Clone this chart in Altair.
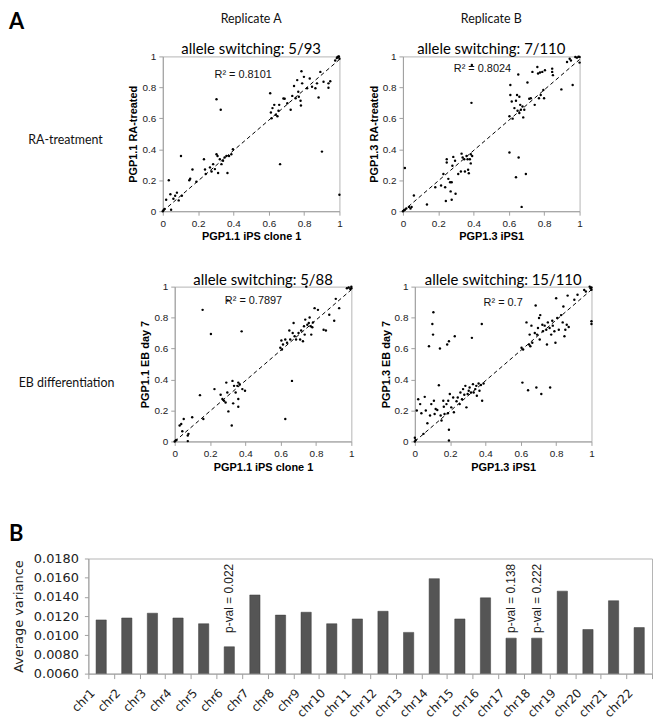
import altair as alt
import pandas as pd

# ---------------- data ----------------
TL = [(0, 0), (0.005, 0.008), (0.01, 0.015), (0.019, 0.074), (0.034, 0.20), (0.043, 0.11), (0.047, 0.01),
      (0.06, 0.08), (0.07, 0.10), (0.08, 0.12), (0.09, 0.07), (0.103, 0.357), (0.108, 0.10), (0.15, 0.20),
      (0.155, 0.21), (0.168, 0.27), (0.19, 0.19), (0.233, 0.336), (0.239, 0.27), (0.243, 0.24), (0.267, 0.283),
      (0.276, 0.257), (0.285, 0.304), (0.295, 0.272), (0.304, 0.368), (0.31, 0.357), (0.313, 0.247),
      (0.304, 0.723), (0.328, 0.655), (0.332, 0.304), (0.341, 0.326), (0.35, 0.347), (0.36, 0.357),
      (0.366, 0.247), (0.375, 0.357), (0.388, 0.368), (0.397, 0.40), (0.323, 0.336), (0.608, 0.762),
      (0.612, 0.638), (0.616, 0.60), (0.621, 0.666), (0.631, 0.687), (0.64, 0.623), (0.649, 0.613),
      (0.659, 0.687), (0.655, 0.649), (0.664, 0.304), (0.683, 0.728), (0.69, 0.726), (0.705, 0.698),
      (0.724, 0.655), (0.733, 0.745), (0.743, 0.809), (0.752, 0.73), (0.761, 0.847), (0.767, 0.772),
      (0.77, 0.74), (0.78, 0.713), (0.782, 0.683), (0.785, 0.904), (0.789, 0.826), (0.799, 0.868),
      (0.817, 0.794), (0.832, 0.857), (0.845, 0.804), (0.864, 0.794), (0.873, 0.826), (0.882, 0.734),
      (0.892, 0.90), (0.901, 0.385), (0.91, 0.836), (0.938, 0.826), (0.938, 0.798), (0.948, 0.84),
      (0.976, 0.974), (0.985, 0.989), (0.989, 0.996), (0.994, 0.998), (1.0, 0.985), (1.0, 0.106), (0.997, 1.0)]

TR = [(0, 0), (0.006, 0.006), (0.011, 0.01), (0.019, 0.017), (0.034, 0.028), (0.043, 0.017), (0.011, 0.279),
      (0.049, 0.028), (0.062, 0.102), (0.136, 0.043), (0.183, 0.155), (0.216, 0.166), (0.229, 0.24),
      (0.239, 0.155), (0.243, 0.066), (0.248, 0.336), (0.248, 0.315), (0.257, 0.209), (0.267, 0.187),
      (0.27, 0.128), (0.276, 0.187), (0.276, 0.074), (0.28, 0.294), (0.285, 0.351), (0.295, 0.326),
      (0.298, 0.113), (0.313, 0.24), (0.328, 0.257), (0.332, 0.372), (0.338, 0.347), (0.347, 0.336),
      (0.351, 0.257), (0.36, 0.357), (0.366, 0.336), (0.369, 0.268), (0.373, 0.245), (0.379, 0.336),
      (0.384, 0.368), (0.384, 0.309), (0.388, 0.70), (0.392, 0.357), (0.39, 0.944), (0.603, 0.379),
      (0.603, 0.613), (0.608, 0.815), (0.608, 0.751), (0.616, 0.709), (0.621, 0.598), (0.631, 0.666),
      (0.64, 0.713), (0.64, 0.219), (0.646, 0.751), (0.649, 0.649), (0.653, 0.883), (0.655, 0.347),
      (0.659, 0.74), (0.659, 0.634), (0.664, 0.687), (0.668, 0.655), (0.672, 0.028), (0.677, 0.677),
      (0.681, 0.606), (0.687, 0.655), (0.696, 0.24), (0.705, 0.832), (0.715, 0.726), (0.724, 0.73),
      (0.733, 0.90), (0.746, 0.687), (0.761, 0.932), (0.765, 0.89), (0.77, 0.73), (0.776, 0.896),
      (0.78, 0.751), (0.789, 0.90), (0.795, 0.783), (0.799, 0.73), (0.804, 0.911), (0.845, 0.921),
      (0.845, 0.90), (0.849, 0.879), (0.897, 0.787), (0.929, 0.964), (0.944, 0.985), (0.951, 0.974),
      (0.961, 0.815), (0.976, 0.996), (0.985, 0.992), (0.994, 0.998), (1.0, 0.996), (1.0, 0.96)]

BL = [(0, 0), (0.006, 0.006), (0.01, 0.01), (0.028, 0.103), (0.037, 0.113), (0.043, 0.066), (0.051, 0.145),
      (0.074, 0.038), (0.074, 0.002), (0.078, 0.049), (0.099, 0.156), (0.143, 0.299), (0.158, 0.85),
      (0.162, 0.145), (0.205, 0.694), (0.225, 0.338), (0.26, 0.301), (0.27, 0.274), (0.279, 0.263),
      (0.288, 0.252), (0.292, 0.38), (0.298, 0.316), (0.304, 0.194), (0.323, 0.103), (0.327, 0.391),
      (0.331, 0.246), (0.336, 0.359), (0.345, 0.316), (0.355, 0.359), (0.36, 0.38), (0.36, 0.274),
      (0.36, 0.224), (0.368, 0.369), (0.379, 0.711), (0.383, 0.338), (0.398, 0.327), (0.30, 0.91),
      (0.598, 0.605), (0.604, 0.652), (0.607, 0.594), (0.613, 0.626), (0.626, 0.658), (0.626, 0.145),
      (0.636, 0.637), (0.649, 0.716), (0.654, 0.658), (0.664, 0.391), (0.668, 0.701), (0.673, 0.765),
      (0.679, 0.679), (0.687, 0.658), (0.701, 0.701), (0.71, 0.658), (0.716, 0.716), (0.726, 0.647),
      (0.732, 0.744), (0.736, 0.69), (0.739, 0.787), (0.745, 1.0), (0.751, 0.754), (0.759, 0.765),
      (0.764, 0.801), (0.77, 0.744), (0.773, 0.69), (0.779, 0.737), (0.783, 0.769), (0.792, 0.861),
      (0.811, 0.85), (0.843, 0.722), (0.856, 0.716), (0.875, 0.818), (0.903, 0.78), (0.912, 0.921),
      (0.931, 0.861), (0.975, 0.99), (0.985, 0.994), (0.994, 0.985), (1.0, 1.0), (1.0, 0.99)]

BR = [(0, 0), (0.005, 0.01), (0, 0.024), (0.011, 0.2), (0.019, 0.273), (0.03, 0.241), (0.037, 0.182),
      (0.049, 0.049), (0.056, 0.288), (0.062, 0.2), (0.071, 0.118), (0.08, 0.615), (0.086, 0.167),
      (0.093, 0.241), (0.099, 0.759), (0.103, 0.69), (0.105, 0.835), (0.108, 0.263), (0.112, 0.177),
      (0.118, 0.209), (0.127, 0.203), (0.136, 0.363), (0.142, 0.60), (0.146, 0.167), (0.151, 0.135),
      (0.161, 0.263), (0.164, 0.224), (0.168, 0.177), (0.179, 0.241), (0.183, 0.626), (0.187, 0.182),
      (0.189, 0.263), (0.193, 0.647), (0.193, 0.075), (0.193, 0.006), (0.198, 0.306), (0.206, 0.22),
      (0.217, 0.284), (0.221, 0.188), (0.226, 0.679), (0.236, 0.259), (0.243, 0.284), (0.254, 0.241),
      (0.258, 0.316), (0.267, 0.273), (0.273, 0.338), (0.28, 0.301), (0.286, 0.359), (0.292, 0.22),
      (0.299, 0.306), (0.305, 0.327), (0.31, 0.348), (0.318, 0.316), (0.323, 0.669), (0.329, 0.37),
      (0.333, 0.316), (0.342, 0.338), (0.348, 0.359), (0.351, 0.295), (0.361, 0.374), (0.366, 0.327),
      (0.374, 0.365), (0.379, 0.759), (0.381, 0.263), (0.389, 0.374), (0.604, 0.605), (0.609, 0.38),
      (0.613, 0.594), (0.632, 0.769), (0.641, 0.331), (0.647, 0.626), (0.65, 0.69), (0.654, 0.615),
      (0.66, 0.748), (0.665, 0.637), (0.679, 0.701), (0.684, 0.878), (0.688, 0.348), (0.692, 0.69),
      (0.697, 0.733), (0.703, 0.797), (0.707, 0.658), (0.71, 0.816), (0.716, 0.306), (0.722, 0.754),
      (0.725, 0.712), (0.735, 0.748), (0.744, 0.722), (0.748, 0.626), (0.753, 0.769), (0.763, 0.733),
      (0.766, 0.348), (0.772, 0.69), (0.778, 0.78), (0.781, 0.748), (0.79, 0.712), (0.796, 0.637),
      (0.8, 0.925), (0.806, 0.797), (0.815, 0.722), (0.828, 0.816), (0.837, 0.769), (0.841, 0.872),
      (0.847, 0.679), (0.852, 0.722), (0.86, 0.754), (0.865, 0.942), (0.871, 0.739), (0.903, 0.915),
      (0.921, 0.947), (0.959, 0.979), (0.968, 0.968), (0.99, 1.0), (0.995, 0.99), (1.0, 0.995),
      (1.0, 0.98), (1.0, 0.776), (1.0, 0.759)]

TREND_X = [0, 1]
TREND_Y = [0, 0.98]

R2_TEXT = ["R² = 0.8101", "R² = 0.8024", "R² = 0.7897", "R² = 0.7"]
R2_X = [0.455, 0.45, 0.446, 0.50]
R2_Y = [0.878, 0.917, 0.904, 0.897]

PANEL_TITLES = ["allele switching: 5/93", "allele switching: 7/110",
                "allele switching: 5/88", "allele switching: 15/110"]
REPLICATES = ["Replicate A", "Replicate B"]
ROW_LABELS = ["RA-treatment", "EB differentiation"]
X_TITLES = ["PGP1.1 iPS clone 1", "PGP1.3 iPS1", "PGP1.1 iPS clone 1", "PGP1.3 iPS1"]
Y_TITLES = ["PGP1.1 RA-treated", "PGP1.3 RA-treated", "PGP1.1 EB day 7", "PGP1.3 EB day 7"]
TICKS = [0, 0.2, 0.4, 0.6, 0.8, 1]

CHROMS = ["chr1", "chr2", "chr3", "chr4", "chr5", "chr6", "chr7", "chr8", "chr9", "chr10", "chr11",
          "chr12", "chr13", "chr14", "chr15", "chr16", "chr17", "chr18", "chr19", "chr20", "chr21", "chr22"]
VARIANCE = [0.0116, 0.0118, 0.0123, 0.0118, 0.0112, 0.0088, 0.0142, 0.0121, 0.0124, 0.0112, 0.0117,
            0.0125, 0.0103, 0.0159, 0.0117, 0.0139, 0.0097, 0.0097, 0.0146, 0.0106, 0.0136, 0.0108]
VAR_TICKS = [0.006, 0.008, 0.010, 0.012, 0.014, 0.016, 0.018]
PVAL_CHROMS = ["chr6", "chr17", "chr18"]
PVAL_TEXT = ["p-val = 0.022", "p-val = 0.138", "p-val = 0.222"]

# ---------------- style ----------------
PW, PH = 178, 156
LABEL_W = 14          # label column; its origin lines up with the bar chart's plot origin
GRAY = "#a0a0a0"
AF = "Liberation Sans"
GF = "Lato"


def sc_axis(title, is_y):
    kw = dict(title=title, values=TICKS, tickCount=10, format="~g", grid=False,
              labelFont=AF, labelFontSize=10, labelColor="#222", labelFlush=False, labelOverlap=False,
              titleFont=AF, titleFontSize=11, titleFontWeight="bold", titleColor="#000",
              tickSize=4, tickColor=GRAY, domainColor=GRAY, labelPadding=3)
    if is_y:
        kw.update(minExtent=22, maxExtent=22, titlePadding=2)
    else:
        kw.update(titlePadding=3)
    return alt.Axis(**kw)


def scatter(i, pts, title):
    df = pd.DataFrame(pts, columns=["x", "y"])
    xs = alt.Scale(domain=[0, 1], nice=False)
    ys = alt.Scale(domain=[0, 1], nice=False)
    trend = alt.Chart(pd.DataFrame({"x": TREND_X, "y": TREND_Y})).mark_line(
        color="black", strokeDash=[4, 3], strokeWidth=1
    ).encode(x=alt.X("x:Q", scale=xs, axis=sc_axis(X_TITLES[i], False)),
             y=alt.Y("y:Q", scale=ys, axis=sc_axis(Y_TITLES[i], True)))
    dots = alt.Chart(df).mark_circle(size=6, color="black", opacity=1).encode(
        x=alt.X("x:Q", scale=xs), y=alt.Y("y:Q", scale=ys))
    r2 = alt.Chart(pd.DataFrame({"x": [R2_X[i]], "y": [R2_Y[i]], "t": [R2_TEXT[i]]})).mark_text(
        font=AF, fontSize=11, color="#111"
    ).encode(x=alt.X("x:Q", scale=xs), y=alt.Y("y:Q", scale=ys), text="t:N")
    return alt.layer(trend, dots, r2).properties(width=PW, height=PH, title=title)


def top_title(rep, sub):
    return alt.TitleParams(text=rep, subtitle=sub, font=GF, fontSize=12.5, fontWeight="normal",
                           color="#111", subtitleFont=GF, subtitleFontSize=15, subtitleColor="#000",
                           subtitlePadding=17, offset=-6, anchor="middle")


def bot_title(sub):
    return alt.TitleParams(text=sub, font=GF, fontSize=15, fontWeight="normal", color="#000",
                           offset=-6, anchor="middle")


def label_chart(label, label_x, label_y, panel_letter=None):
    layers = [alt.Chart(pd.DataFrame({"t": [label]})).mark_text(
        font=GF, fontSize=12.5, color="#111", align="center", baseline="middle"
    ).encode(text="t:N", x=alt.value(label_x), y=alt.value(label_y))]
    if panel_letter:
        layers.append(alt.Chart(pd.DataFrame({"t": [panel_letter]})).mark_text(
            font=GF, fontSize=22, fontWeight="bold", color="#000", align="left", baseline="alphabetic"
        ).encode(text="t:N", x=alt.value(-80), y=alt.value(-28)))
    return alt.layer(*layers).properties(width=LABEL_W, height=PH,
                                         view=alt.ViewBackground(strokeOpacity=0))


row1 = alt.hconcat(
    label_chart(ROW_LABELS[0], -23, 84, "A"),
    scatter(0, TL, top_title(REPLICATES[0], PANEL_TITLES[0])),
    scatter(1, TR, top_title(REPLICATES[1], PANEL_TITLES[1])),
    spacing=24,
)
row2 = alt.hconcat(
    label_chart(ROW_LABELS[1], -22, 97),
    scatter(2, BL, bot_title(PANEL_TITLES[2])),
    scatter(3, BR, bot_title(PANEL_TITLES[3])),
    spacing=24,
)
upper = alt.vconcat(row1, row2, spacing=29)

# ---------------- bar chart ----------------
bar_df = pd.DataFrame({"chrom": CHROMS, "v": VARIANCE})
xband = alt.Scale(domain=CHROMS, paddingInner=0, paddingOuter=0)
vscale = alt.Scale(domain=[0.006, 0.018], nice=False, zero=False)

bars = alt.Chart(bar_df).mark_bar(color="#555555", stroke="#3a3a3a", strokeWidth=0.5,
                                  width=alt.RelativeBandSize(0.4), clip=True).encode(
    x=alt.X("chrom:N", scale=xband, sort=CHROMS, title=None,
            axis=alt.Axis(labelAngle=-45, labelFont="DejaVu Sans", labelFontSize=12, labelColor="#222",
                          labelAlign="right", labelBaseline="middle", labelPadding=12, labelOffset=-9,
                          tickBand="extent", tickSize=5, tickColor=GRAY, domainColor=GRAY)),
    y=alt.Y("v:Q", scale=vscale, title="Average variance",
            axis=alt.Axis(values=VAR_TICKS, tickCount=10, format=".4f", grid=False, labelFont="DejaVu Sans",
                          labelFontSize=13, labelColor="#222", titleFont="DejaVu Sans", titleFontSize=13,
                          titleFontWeight="normal", titleColor="#222", tickSize=4, tickColor=GRAY,
                          domainColor=GRAY, labelPadding=6, titlePadding=8)),
)

pv = alt.Chart(pd.DataFrame({"chrom": PVAL_CHROMS, "t": PVAL_TEXT})).mark_text(
    font=AF, fontSize=12, color="#222", angle=270, align="left", baseline="middle"
).encode(x=alt.X("chrom:N", scale=xband, sort=CHROMS), y=alt.value(75), text="t:N")

letter_b = alt.Chart(pd.DataFrame({"t": ["B"]})).mark_text(
    font=GF, fontSize=22, fontWeight="bold", color="#000", align="left", baseline="top"
).encode(text="t:N", x=alt.value(-80), y=alt.value(-35))

bar_chart = alt.layer(bars, pv, letter_b).properties(width=568, height=116)

chart = alt.vconcat(upper, bar_chart, spacing=49).properties(
    padding={"left": 0, "top": 0, "right": 0, "bottom": 4}, background="white"
).configure_view(stroke="#b4b4b4", strokeWidth=1)

chart.save("out.html", embed_options={"renderer": "svg", "actions": False})
